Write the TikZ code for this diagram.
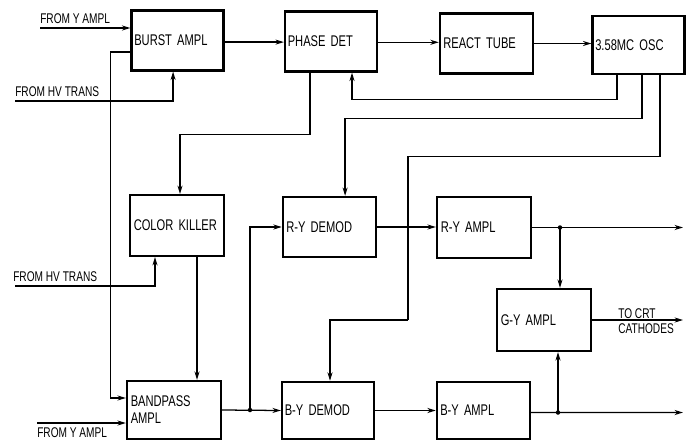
\documentclass[tikz,border=0pt]{standalone}
\usepackage{fontspec}
\setmainfont[FakeStretch=0.72]{Liberation Sans}
\usetikzlibrary{arrows.meta}

\begin{document}
\begin{tikzpicture}[x={(0.025cm,0)},y={(0,-0.025cm)},
  blk/.style={draw,rectangle,line width=1.6pt,minimum width=2.3cm,minimum height=1.5cm,
    text width=2.16cm,inner xsep=0.07cm,align=left,font=\fontsize{11}{12}\selectfont},
  lbl/.style={inner sep=0pt,font=\fontsize{10}{10.5}\selectfont,align=left},
  post/.style={->,>={Stealth[length=6pt,width=3.6pt]},line width=0.9pt},
  wire/.style={line width=0.9pt}]

\useasboundingbox (0,0) rectangle (690,441);

% top row
\node[blk,minimum width=2.22cm] (burst) at (177.5,40.5) {BURST AMPL};
\node[blk] (phase) at (331,41.5) {PHASE DET};
\node[blk,minimum width=2.33cm] (react) at (486.5,43.5) {REACT TUBE};
\node[blk,minimum width=2.22cm,minimum height=1.45cm] (osc) at (638.5,45) {3.58MC OSC};

% middle
\node[blk,minimum width=2.35cm,minimum height=1.52cm] (killer) at (177,225.5) {COLOR KILLER};
\node[blk,minimum width=2.33cm] (rydemod) at (329.5,227) {R-Y DEMOD};
\node[blk,minimum width=2.35cm,minimum height=1.52cm] (ryampl) at (484,227.5) {R-Y AMPL};
\node[blk,minimum width=2.35cm,minimum height=1.55cm] (gyampl) at (544,320) {G-Y AMPL};

% bottom row
\node[blk,minimum width=2.35cm,minimum height=1.45cm] (bandpass) at (174,410) {BANDPASS\\AMPL};
\node[blk,minimum height=1.43cm] (bydemod) at (328,410.5) {B-Y DEMOD};
\node[blk,minimum width=2.33cm,minimum height=1.43cm] (byampl) at (483.5,410.5) {B-Y AMPL};

% inputs
\coordinate (yin1) at (40,28);
\coordinate (hvin1) at (15,101);
\coordinate (hvin2) at (15,286);
\coordinate (yin2) at (37,423);
\node[lbl,anchor=base west] (yin1txt) at (40,23) {FROM Y AMPL};
\node[lbl,anchor=base west] (hvin1txt) at (15,96) {FROM HV TRANS};
\node[lbl,anchor=base west] (hvin2txt) at (13,281) {FROM HV TRANS};
\node[lbl,anchor=base west] (yin2txt) at (37,437) {FROM Y AMPL};

\draw[post] (yin1) -- (yin1 -| burst.west);
\draw[post] (hvin1) -| ([xshift=-0.11cm]burst.south);
\draw[post] (hvin2) -| ([xshift=-0.55cm]killer.south);
\draw[post] (yin2) -- (yin2 -| bandpass.west);

% burst chain
\draw[post] ([yshift=-0.04cm]burst.east) -- ([yshift=-0.04cm]burst.east -| phase.west);
\draw[post] ([yshift=-0.02cm]phase.east) -- ([yshift=-0.02cm]phase.east -| react.west);
\draw[post] (react.east) -- (react.east -| osc.west);
\draw[post] ([yshift=-0.29cm]burst.west) -- ++(-20,0) |- ([yshift=0.3cm]bandpass.west);

% phase det / killer
\draw[post] ([xshift=-0.525cm]phase.south) -- ++(0,62) -| ([xshift=0.075cm]killer.north);
\draw[post] ([xshift=0.5cm]killer.south) -- ([xshift=0.5cm]killer.south |- bandpass.north);

% oscillator outputs
\coordinate (bend) at (408,320);
\draw[post] ([xshift=-0.54cm]osc.south) -- ++(0,24) -| ([xshift=0.525cm]phase.south);
\draw[post] ([xshift=0.09cm]osc.south) -- ++(0,43) -| ([xshift=0.39cm]rydemod.north);
\draw[wire] ([xshift=0.54cm]osc.south) -- ++(0,81) -| (bend);
\draw[post] (bend) -| ([xshift=0.05cm]bydemod.north);

% demodulators
\coordinate (jb) at (250,410);
\draw[post] (bandpass.east) -- (bydemod.west);
\draw[post] (jb) |- (rydemod.west);
\draw[post] (rydemod.east) -- (rydemod.east -| ryampl.west);
\draw[post] (bydemod.east) -- (bydemod.east -| byampl.west);

% outputs
\coordinate (ryout) at (683,227.5);
\coordinate (gyout) at (683,320);
\coordinate (byout) at (683,412.5);
\coordinate (jr) at (560,227.5);
\coordinate (jy) at (558,412.5);
\draw[post] (ryampl.east) -- (ryout);
\draw[post] (gyampl.east) -- (gyout);
\draw[post] ([yshift=-0.05cm]byampl.east) -- (byout);
\draw[post] (jr) -- (jr |- gyampl.north);
\draw[post] (jy) -- (jy |- gyampl.south);
\node[lbl,anchor=west] (crt) at (618,321) {TO CRT\\CATHODES};

\foreach \j in {jb,jr,jy}{
\fill (\j) circle (1.6pt);
}

\end{tikzpicture}
\end{document}
